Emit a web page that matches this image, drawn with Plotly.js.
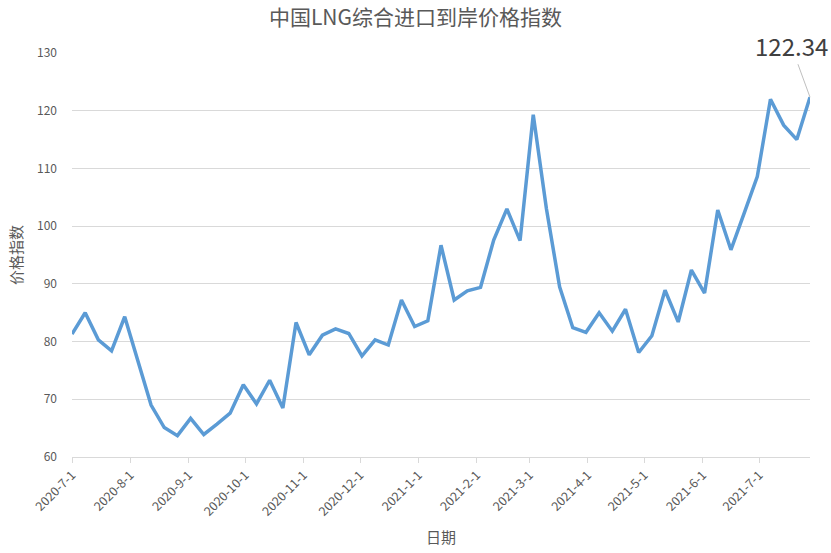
<!DOCTYPE html>
<html>
<head>
<meta charset="utf-8">
<script src="https://cdn.plot.ly/plotly-3.0.1.min.js"></script>
<style>html,body{margin:0;padding:0;background:#fff;}#chart{width:831px;height:553px;}</style>
</head>
<body>
<div id="chart"></div>
<script>
const dates = [
  "2020-07-01","2020-07-08","2020-07-15","2020-07-22","2020-07-29",
  "2020-08-05","2020-08-12","2020-08-19","2020-08-26",
  "2020-09-02","2020-09-09","2020-09-16","2020-09-23","2020-09-30",
  "2020-10-07","2020-10-14","2020-10-21","2020-10-28",
  "2020-11-04","2020-11-11","2020-11-18","2020-11-25",
  "2020-12-02","2020-12-09","2020-12-16","2020-12-23","2020-12-30",
  "2021-01-06","2021-01-13","2021-01-20","2021-01-27",
  "2021-02-03","2021-02-10","2021-02-17","2021-02-24",
  "2021-03-03","2021-03-10","2021-03-17","2021-03-24","2021-03-31",
  "2021-04-07","2021-04-14","2021-04-21","2021-04-28",
  "2021-05-05","2021-05-12","2021-05-19","2021-05-26",
  "2021-06-02","2021-06-09","2021-06-16","2021-06-23","2021-06-30",
  "2021-07-07","2021-07-14","2021-07-21","2021-07-28"
];
const priceIndex = [
  81.3, 85.0, 80.3, 78.4, 84.3, 76.5, 69.0, 65.1, 63.7, 66.7,
  63.9, 65.7, 67.6, 72.5, 69.2, 73.3, 68.5, 83.3, 77.7, 81.1,
  82.2, 81.4, 77.5, 80.3, 79.4, 87.2, 82.6, 83.6, 96.7, 87.2,
  88.8, 89.4, 97.6, 103.0, 97.5, 119.3, 103.0, 89.5, 82.4, 81.6,
  85.0, 81.8, 85.6, 78.1, 81.0, 88.9, 83.4, 92.4, 88.4, 102.8,
  95.9, 102.2, 108.6, 122.0, 117.5, 115.0, 122.34
];
const titleText = "中国LNG综合进口到岸价格指数";
const xTitle = "日期";
const yTitle = "价格指数";
const lastLabel = "122.34";

const fontFam = "'Noto Sans CJK SC', 'Liberation Sans Narrow', sans-serif";
const gray = "#595959";

const trace = {
  x: dates,
  y: priceIndex,
  type: "scatter",
  mode: "lines",
  line: {color: "#5b9bd5", width: 3.5},
  hoverinfo: "x+y"
};

const layout = {
  width: 831,
  height: 553,
  margin: {l: 72, r: 21, t: 53, b: 96},
  paper_bgcolor: "#ffffff",
  plot_bgcolor: "#ffffff",
  showlegend: false,
  font: {family: fontFam, color: gray, size: 12},
  title: {
    text: titleText,
    x: 0.5, xanchor: "center",
    y: 0.968, yanchor: "middle",
    font: {family: fontFam, size: 21, color: gray}
  },
  xaxis: {
    type: "date",
    range: ["2020-07-01", "2021-07-28"],
    tick0: "2020-07-01",
    dtick: "M1",
    tickformat: "%Y-%-m-%-d",
    tickangle: -45,
    ticks: "outside",
    ticklen: 5,
    tickcolor: "#d9d9d9",
    showline: true,
    linecolor: "#d9d9d9",
    linewidth: 1,
    showgrid: false,
    zeroline: false,
    tickfont: {family: fontFam, size: 12.5, color: gray},
    title: {text: xTitle, font: {family: fontFam, size: 15, color: gray}, standoff: 14}
  },
  yaxis: {
    range: [60, 130],
    dtick: 10,
    showgrid: true,
    gridcolor: "#d9d9d9",
    gridwidth: 1,
    zeroline: false,
    showline: false,
    ticks: "",
    ticklabelstandoff: 14,
    tickfont: {family: fontFam, size: 12, color: gray},
    title: {text: yTitle, font: {family: fontFam, size: 15, color: gray}, standoff: 10}
  },
  annotations: [{
    x: dates[dates.length - 1],
    y: priceIndex[priceIndex.length - 1],
    xref: "x", yref: "y",
    text: lastLabel,
    showarrow: true,
    arrowhead: 0,
    arrowwidth: 1,
    arrowcolor: "#bfbfbf",
    ax: -19,
    ay: -52,
    standoff: 0,
    font: {family: fontFam, size: 24, color: "#404040"}
  }]
};

Plotly.newPlot("chart", [trace], layout, {displayModeBar: false, staticPlot: true});
</script>
</body>
</html>
